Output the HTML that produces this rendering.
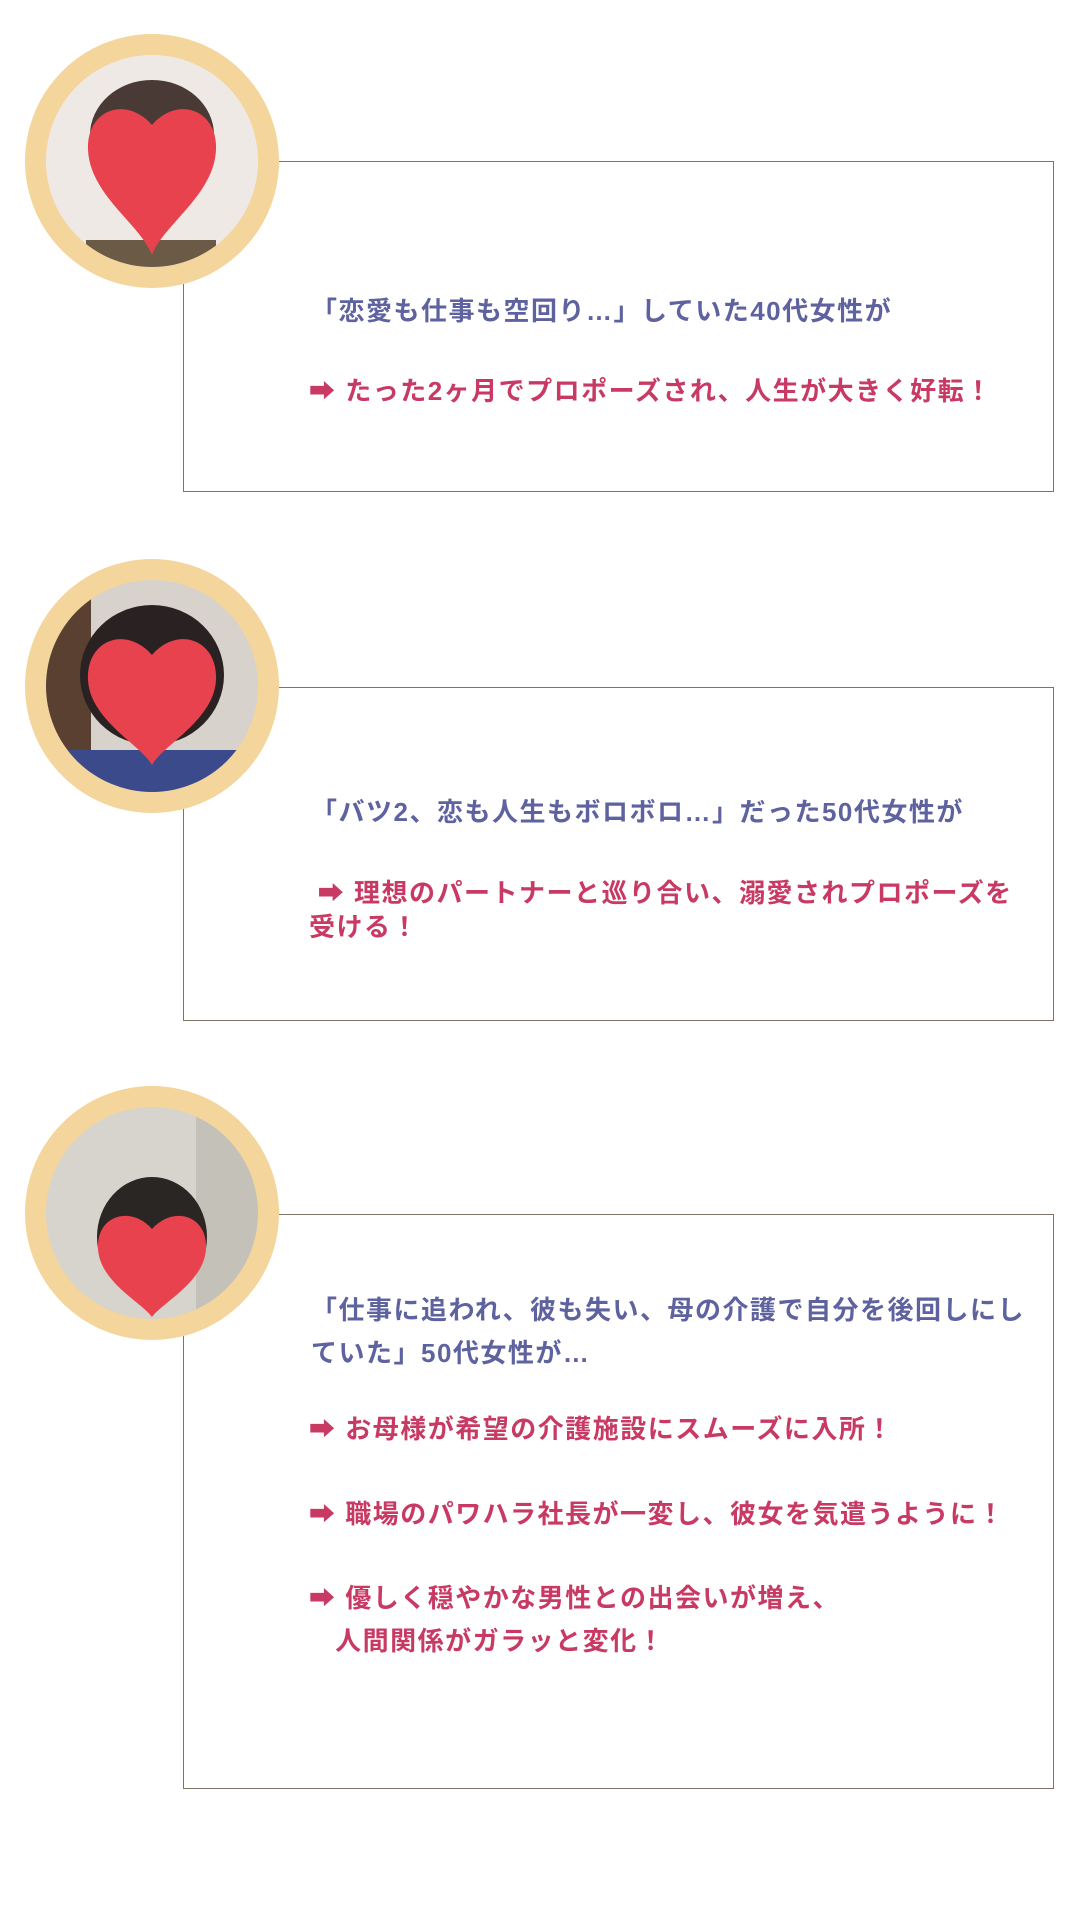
<!DOCTYPE html>
<html><head><meta charset="utf-8"><style>
html,body{margin:0;padding:0;background:#fff;}
body{width:1080px;height:1920px;position:relative;overflow:hidden;font-family:"Liberation Sans","Noto Sans CJK JP",sans-serif;font-weight:bold;}
.box{position:absolute;left:183px;width:871px;border:1.5px solid #7d7466;box-sizing:border-box;background:#fff;}
.ring{position:absolute;left:25px;width:254px;height:254px;border-radius:50%;background:#f4d59c;}
.photo{position:absolute;left:21px;top:21px;width:212px;height:212px;border-radius:50%;overflow:hidden;}
.t{position:absolute;left:311px;font-size:26px;letter-spacing:1.5px;line-height:43px;white-space:nowrap;}
.b{color:#5e63a0;}.p{color:#c83a64;}
</style></head><body>

<div class="box" style="top:161px;height:331px;"></div>
<div class="box" style="top:687px;height:334px;"></div>
<div class="box" style="top:1214px;height:575px;"></div>

<div class="ring" style="top:34px;"><div class="photo" style="background:#efe9e6;">
<svg width="212" height="212"><ellipse cx="106" cy="80" rx="62" ry="55" fill="#4a3a36"/><rect x="40" y="185" width="130" height="40" fill="#6b5a46"/><path d="M106 70 C80 40 40 55 42 95 C44 140 95 170 106 200 C117 170 168 140 170 95 C172 55 132 40 106 70Z" fill="#e8424f"/></svg></div></div>

<div class="ring" style="top:559px;"><div class="photo" style="background:#d8d2cc;">
<svg width="212" height="212"><rect x="0" y="0" width="45" height="212" fill="#5a4030"/><ellipse cx="106" cy="95" rx="72" ry="70" fill="#2a2222"/><rect x="20" y="170" width="172" height="50" fill="#3a4a8a"/><path d="M106 75 C80 45 40 60 42 100 C44 140 95 165 106 185 C117 165 168 140 170 100 C172 60 132 45 106 75Z" fill="#e8424f"/></svg></div></div>

<div class="ring" style="top:1086px;"><div class="photo" style="background:#d6d4cc;">
<svg width="212" height="212"><rect x="150" y="0" width="62" height="212" fill="#c4c2b8"/><ellipse cx="106" cy="130" rx="55" ry="60" fill="#2a2624"/><path d="M106 122 C85 98 50 108 52 142 C54 175 95 195 106 210 C117 195 158 175 160 142 C162 108 127 98 106 122Z" fill="#e8424f"/></svg></div></div>

<div class="t b" style="top:290px;">「恋愛も仕事も空回り…」していた40代女性が</div>
<div class="t p" style="top:370px;left:309px;">➡ たった2ヶ月でプロポーズされ、人生が大きく好転！</div>

<div class="t b" style="top:791px;">「バツ2、恋も人生もボロボロ…」だった50代女性が</div>
<div class="t p" style="top:876px;left:309px;line-height:34px;">&nbsp;➡ 理想のパートナーと巡り合い、溺愛されプロポーズを<br>受ける！</div>

<div class="t b" style="top:1289px;">「仕事に追われ、彼も失い、母の介護で自分を後回しにし<br>ていた」50代女性が…</div>
<div class="t p" style="top:1408px;left:309px;">➡ お母様が希望の介護施設にスムーズに入所！</div>
<div class="t p" style="top:1493px;left:309px;">➡ 職場のパワハラ社長が一変し、彼女を気遣うように！</div>
<div class="t p" style="top:1577px;left:309px;">➡ 優しく穏やかな男性との出会いが増え、<br>&nbsp;&nbsp;&nbsp;人間関係がガラッと変化！</div>

</body></html>
